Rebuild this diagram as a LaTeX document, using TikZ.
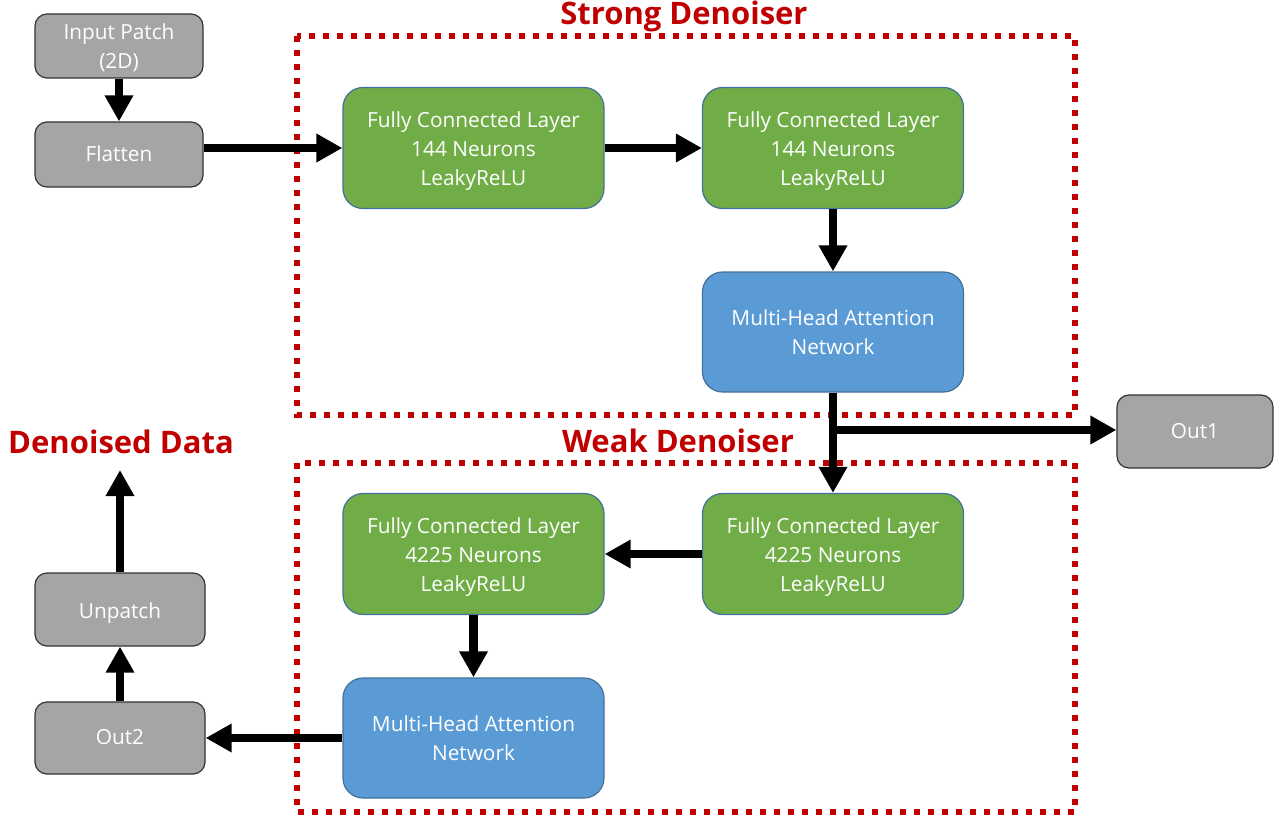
\documentclass[tikz,border=0pt]{standalone}
\usepackage{fontspec}
\setmainfont{Open Sans}
\usetikzlibrary{arrows.meta}
\definecolor{fcgreen}{HTML}{70AD47}
\definecolor{mhblue}{HTML}{5B9BD5}
\definecolor{boxgray}{HTML}{A5A5A5}
\definecolor{edgeblue}{HTML}{41719C}
\definecolor{titlered}{HTML}{C00000}
\definecolor{dotred}{HTML}{C00000}
\newcommand\lowered[2]{\raisebox{-#1}[\height][\depth]{\begin{tabular}{@{}c@{}}#2\end{tabular}}}
\tikzset{
  base/.style={rectangle, rounded corners=20pt, text=white, align=center,
    line width=1.2pt, font=\fontsize{20.8}{29}\selectfont, inner sep=0pt},
  fcbox/.style={base, fill=fcgreen, draw=edgeblue, minimum width=261pt, minimum height=121pt},
  mhbox/.style={base, fill=mhblue, draw=edgeblue, minimum width=261pt, minimum height=120pt},
  graybox/.style={base, rounded corners=12pt, fill=boxgray, draw=black!80},
  flow/.style={line width=8.5pt, -{Triangle[length=26pt,width=27pt]}},
  dotbox/.style={draw=dotred, line width=6pt, dash pattern=on 6pt off 8pt},
  title/.style={text=titlered, font=\fontsize{31}{36}\selectfont\bfseries, anchor=base, inner sep=0pt}
}
\begin{document}
\begin{tikzpicture}[x=1pt,y=-1pt]
\useasboundingbox (0,0) rectangle (1280,832);
% dotted group frames
\draw[dotbox] (297,36) rectangle (1075,415);
\draw[dotbox] (297,463) rectangle (1075,812);
% titles
\node[title] (tstrong) at (684,25) {Strong Denoiser};
\node[title] (tweak) at (678,452) {Weak Denoiser};
\node[title] (tdenoised) at (121,453) {Denoised Data};
% boxes
\node[graybox, minimum width=168pt, minimum height=64pt] (inp) at (119,46) {\lowered{2pt}{Input Patch\\(2D)}};
\node[graybox, minimum width=168pt, minimum height=65pt] (flat) at (119,154.5) {\lowered{1pt}{Flatten}};
\node[fcbox] (fc1) at (473.5,148) {\lowered{3pt}{Fully Connected Layer\\144 Neurons\\LeakyReLU}};
\node[fcbox] (fc2) at (833,148) {\lowered{3pt}{Fully Connected Layer\\144 Neurons\\LeakyReLU}};
\node[mhbox] (mha1) at (833,332) {Multi-Head Attention\\Network};
\node[graybox, minimum width=156pt, minimum height=73pt] (out1) at (1195,431.5) {\lowered{1pt}{Out1}};
\node[fcbox] (fc3) at (833,554) {\lowered{3pt}{Fully Connected Layer\\4225 Neurons\\LeakyReLU}};
\node[fcbox] (fc4) at (473.5,554) {\lowered{3pt}{Fully Connected Layer\\4225 Neurons\\LeakyReLU}};
\node[mhbox] (mha2) at (473.5,738) {Multi-Head Attention\\Network};
\node[graybox, minimum width=170pt, minimum height=72pt] (out2) at (120,738) {\lowered{1pt}{Out2}};
\node[graybox, minimum width=170pt, minimum height=73pt] (unp) at (120,609.5) {\lowered{3pt}{Unpatch}};
\coordinate (br) at (833,430);
\coordinate (ddtip) at (120,470);
% connectors
\draw[flow] (inp.south) -- (flat.north);
\draw[flow] (flat.east |- fc1.west) -- (fc1.west);
\draw[flow] (fc1.east) -- (fc2.west);
\draw[flow] (fc2.south) -- (mha1.north);
\draw[flow] (mha1.south) -- (fc3.north);
\draw[flow] (br) -- (out1.west |- br);
\draw[flow] (fc3.west) -- (fc4.east);
\draw[flow] (fc4.south) -- (mha2.north);
\draw[flow] (mha2.west) -- (out2.east);
\draw[flow] (out2.north) -- (unp.south);
\draw[flow] (unp.north) -- (ddtip);
\end{tikzpicture}
\end{document}
